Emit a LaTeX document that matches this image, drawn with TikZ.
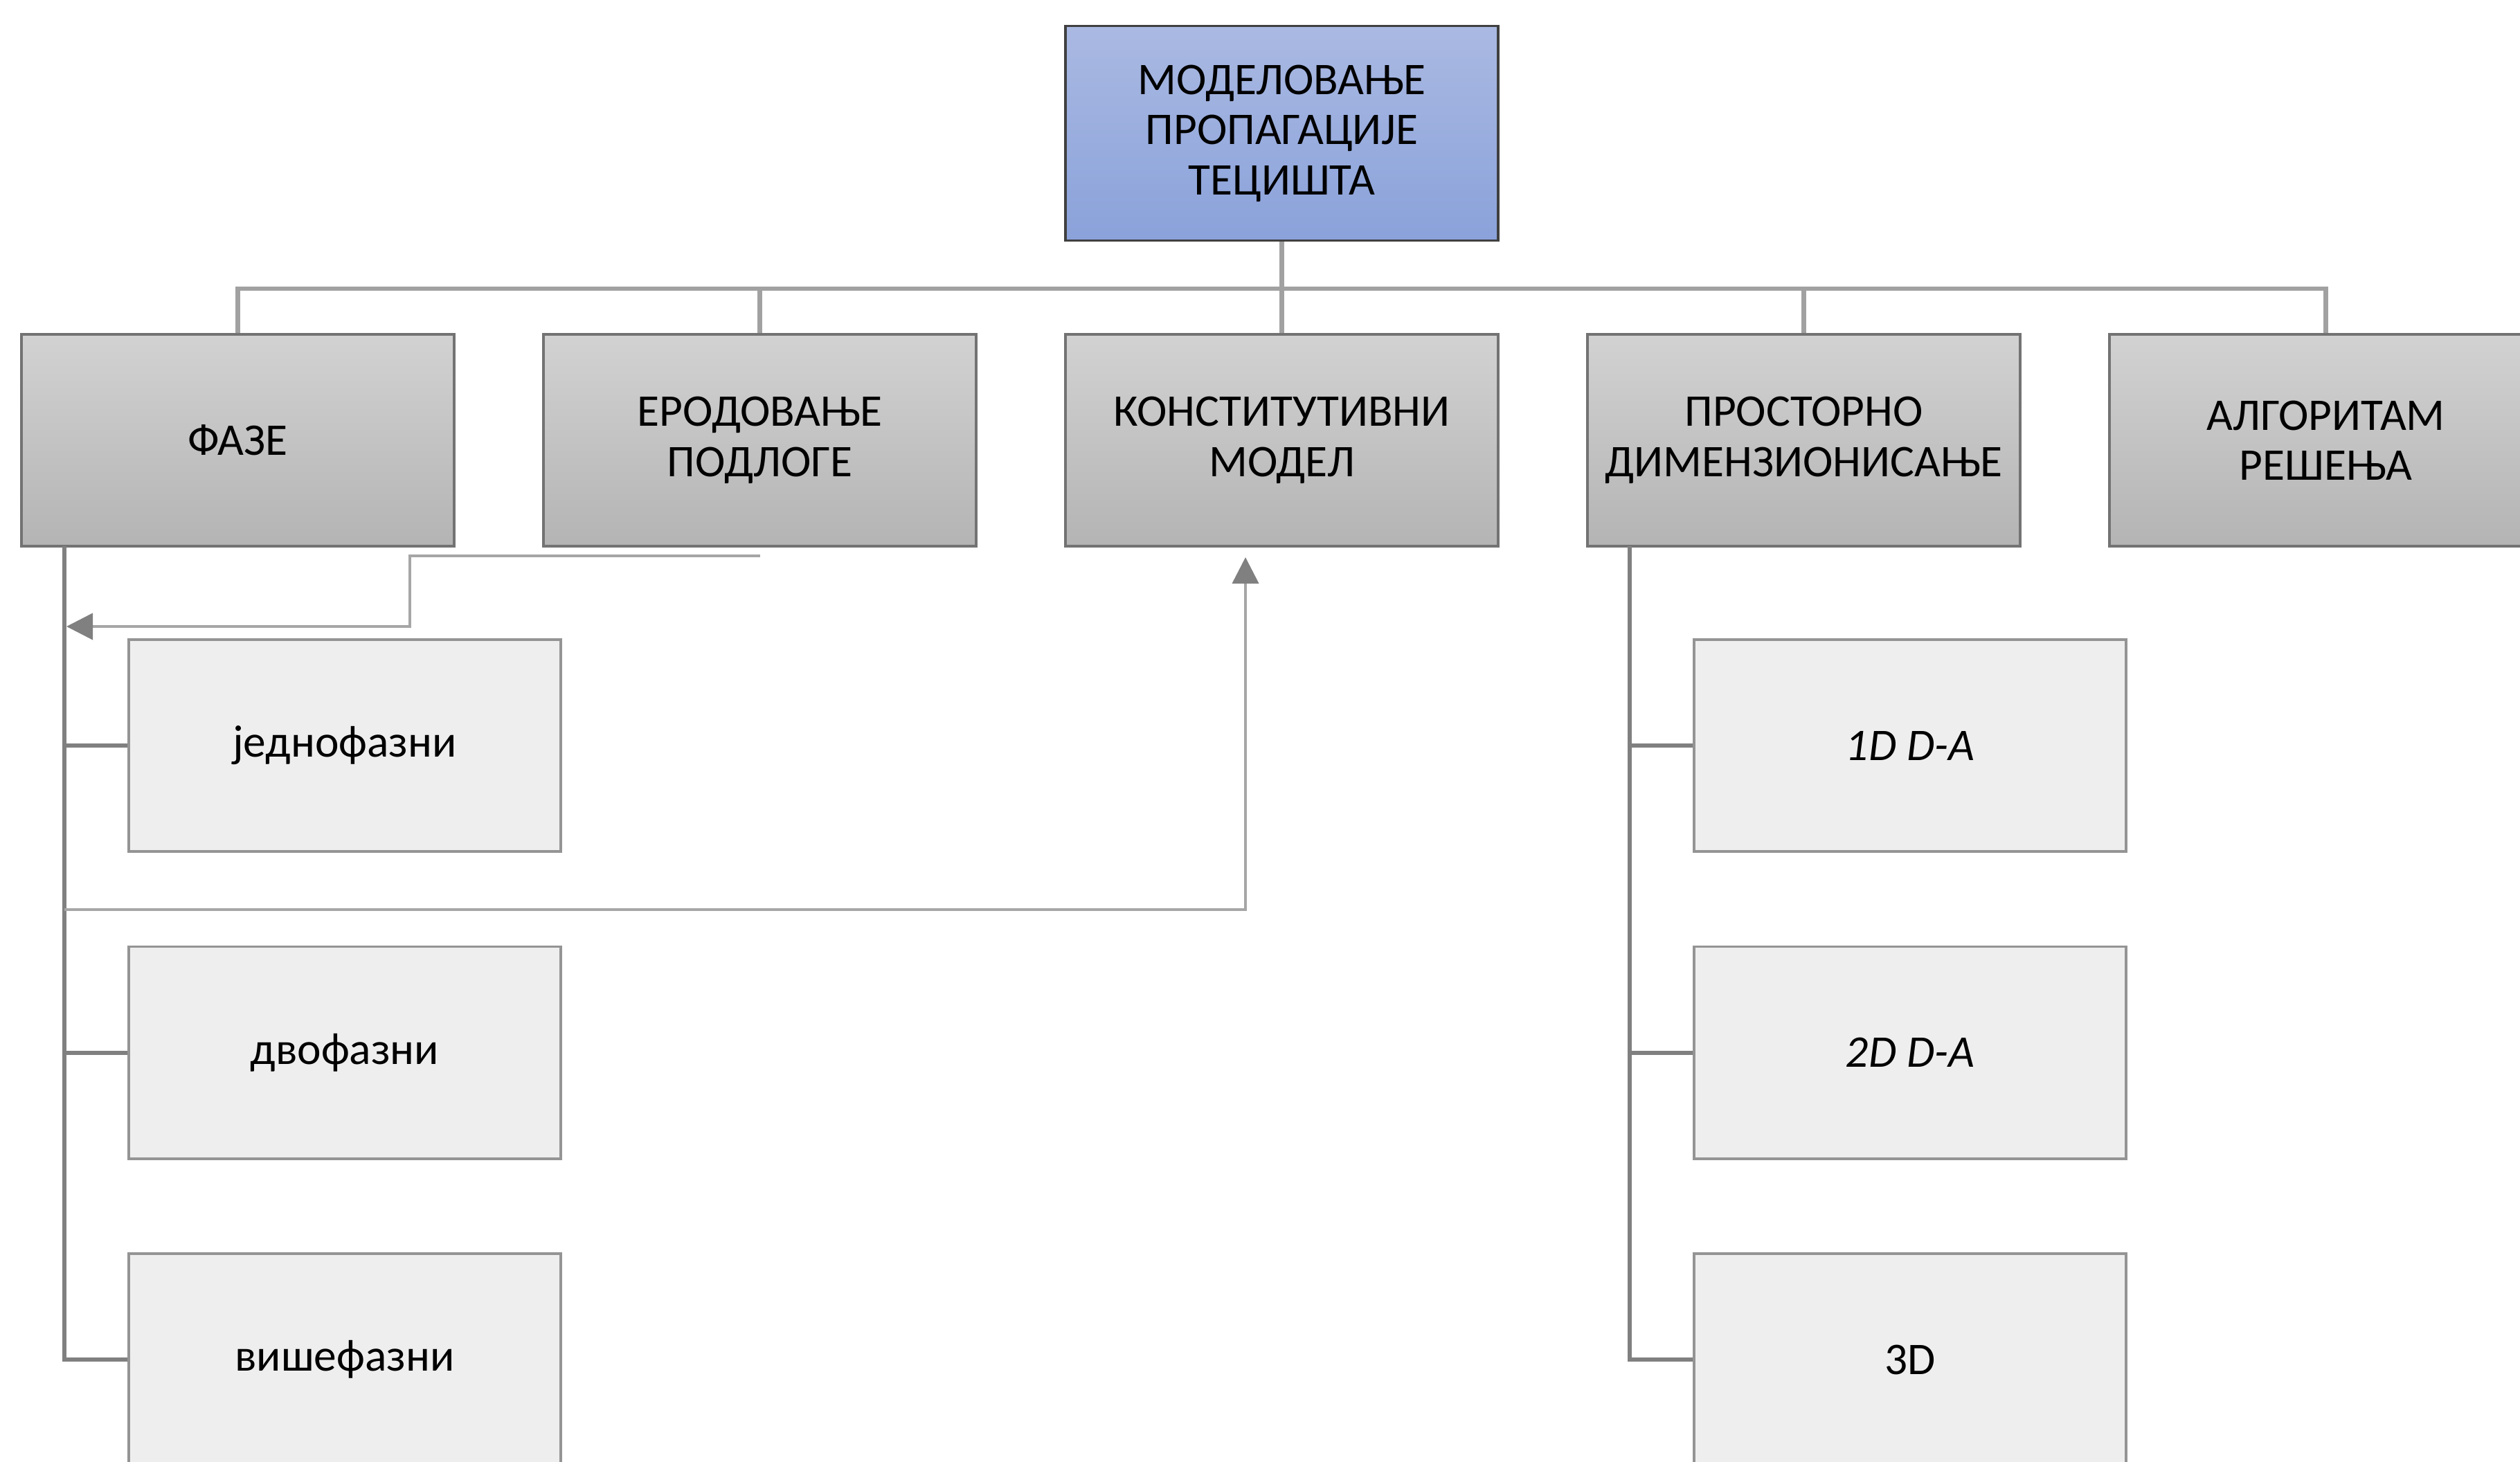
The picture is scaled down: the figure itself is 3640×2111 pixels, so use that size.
\documentclass[tikz,border=0pt]{standalone}
\usepackage{fontspec}
\setmainfont{Carlito}
\usetikzlibrary{arrows.meta}
\definecolor{roottop}{RGB}{170,185,226}
\definecolor{rootbot}{RGB}{138,162,218}
\definecolor{maintop}{RGB}{210,210,210}
\definecolor{mainbot}{RGB}{180,180,180}
\definecolor{subfill}{RGB}{238,238,238}
\begin{document}
\begin{tikzpicture}[x=0.01cm,y=-0.01cm,
  font=\fontsize{18.6}{20.6}\selectfont,
  rootbox/.style={draw=black!75,line width=1pt,top color=roottop,bottom color=rootbot,minimum width=6.25cm,minimum height=3.1cm,align=center,inner sep=0pt},
  mainbox/.style={draw=black!55,line width=1pt,top color=maintop,bottom color=mainbot,minimum width=6.25cm,minimum height=3.06cm,align=center,inner sep=0pt},
  subbox/.style={draw=black!42,line width=1.1pt,fill=subfill,minimum width=6.24cm,minimum height=3.06cm,align=center,inner sep=0pt},
  bus/.style={draw=black!37,line width=1.9pt},
  trunk/.style={draw=black!50,line width=1.7pt},
  flow/.style={draw=black!35,line width=1.1pt,-{Triangle[length=0.38cm,width=0.38cm,color=black!50]}}
]
\useasboundingbox (0,0) rectangle (3640,2111);
\clip (0,0) rectangle (3640,2111);
\fill[white] (0,0) rectangle (3640,2111);

\node[rootbox] (root) at (1851.5,192.5) {МОДЕЛОВАЊЕ\\ПРОПАГАЦИЈЕ\\ТЕЦИШТА};

\node[mainbox] (faze) at (343.5,636) {ФАЗЕ};
\node[mainbox] (erod) at (1097.5,636) {ЕРОДОВАЊЕ\\ПОДЛОГЕ};
\node[mainbox] (konst) at (1851.5,636) {КОНСТИТУТИВНИ\\МОДЕЛ};
\node[mainbox] (prost) at (2605.5,636) {ПРОСТОРНО\\ДИМЕНЗИОНИСАЊЕ};
\node[mainbox] (alg) at (3359.5,636) {АЛГОРИТАМ\\РЕШЕЊА};

\node[subbox] (f1) at (498,1077) {једнофазни};
\node[subbox] (f2) at (498,1520.5) {двофазни};
\node[subbox] (f3) at (498,1964) {вишефазни};

\node[subbox] (d1) at (2759,1077) {\itshape 1D D-A};
\node[subbox] (d2) at (2759,1520.5) {\itshape 2D D-A};
\node[subbox] (d3) at (2759,1964) {3D};

% bus
\coordinate (busy) at (0,417);
\draw[bus] (root.south) -- (root.south |- busy);
\draw[bus] (faze.north) -- (faze.north |- busy) -- (alg.north |- busy) -- (alg.north);
\foreach \n in {erod,konst,prost} \draw[bus] (\n.north |- busy) -- (\n.north);

% trunks
\coordinate (ft) at (93,789);
\coordinate (pt) at (2354,789);
\draw[trunk] (ft) -- (ft |- f3.west) -- (f3.west);
\draw[trunk] (ft |- f1.west) -- (f1.west);
\draw[trunk] (ft |- f2.west) -- (f2.west);
\draw[trunk] (pt) -- (pt |- d3.west) -- (d3.west);
\draw[trunk] (pt |- d1.west) -- (d1.west);
\draw[trunk] (pt |- d2.west) -- (d2.west);

% flow arrows
\coordinate (e0) at (1097.5,803);
\coordinate (e1) at (592,803);
\coordinate (e2) at (592,905);
\coordinate (e3) at (96,905);
\draw[flow] (e0) -- (e1) -- (e2) -- (e3);
\coordinate (k0) at (93,1314);
\coordinate (k1) at (1799,1314);
\coordinate (k2) at (1799,805);
\draw[flow] (k0) -- (k1) -- (k2);
\end{tikzpicture}
\end{document}
